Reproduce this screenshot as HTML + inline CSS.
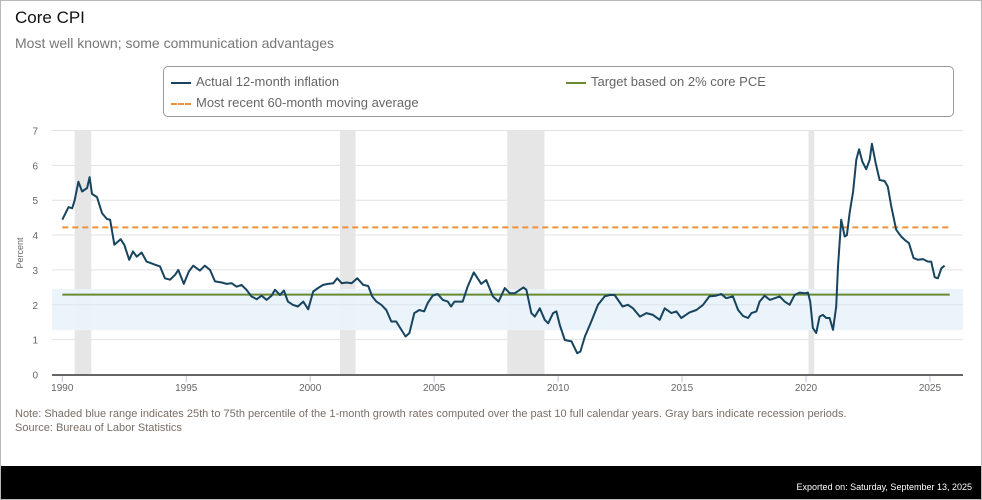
<!DOCTYPE html>
<html><head><meta charset="utf-8"><style>
body{margin:0;width:982px;height:500px;overflow:hidden;background:#fff;font-family:"Liberation Sans",sans-serif;}
#frame{position:absolute;left:0;top:0;width:980px;height:498px;border:1px solid #b8b8b8;}
.t{position:absolute;white-space:nowrap;}
</style></head><body>
<div id="frame"></div>
<div class="t" style="left:15px;top:8px;font-size:17px;color:#111;">Core CPI</div>
<div class="t" style="left:15px;top:35px;font-size:14px;color:#777;">Most well known; some communication advantages</div>
<div style="position:absolute;left:163px;top:66px;width:791px;height:51px;border:1px solid #999;border-radius:5px;box-sizing:border-box;"></div>
<div class="t" style="left:171px;top:74px;font-size:13px;color:#666;"><span style="display:inline-block;width:20px;height:2px;background:#17445f;vertical-align:middle;margin-right:5px;"></span>Actual 12-month inflation</div>
<div class="t" style="left:566px;top:74px;font-size:13px;color:#666;"><span style="display:inline-block;width:20px;height:2px;background:#6a8a32;vertical-align:middle;margin-right:5px;"></span>Target based on 2% core PCE</div>
<div class="t" style="left:171px;top:95px;font-size:13px;color:#666;"><span style="display:inline-block;width:20px;height:0;border-top:2px dashed #f0913a;vertical-align:middle;margin-right:5px;"></span>Most recent 60-month moving average</div>
<svg id="chart" width="982" height="500" style="position:absolute;left:0;top:0;"></svg>
<div class="t" style="left:15px;top:408px;font-size:11px;color:#7a6e66;">Note: Shaded blue range indicates 25th to 75th percentile of the 1-month growth rates computed over the past 10 full calendar years. Gray bars indicate recession periods.</div>
<div class="t" style="left:15px;top:422px;font-size:11px;color:#7a6e66;">Source: Bureau of Labor Statistics</div>
<div style="position:absolute;left:1px;top:466px;width:980px;height:33px;background:#000;"></div>
<div class="t" style="right:10px;top:482px;font-size:9px;color:#fff;">Exported on: Saturday, September 13, 2025</div>
<script>
const dates=[1990.0,1990.25,1990.4,1990.5,1990.65,1990.8,1991.0,1991.1,1991.2,1991.4,1991.6,1991.8,1991.93,1992.1,1992.35,1992.5,1992.7,1992.85,1993.0,1993.2,1993.4,1993.74,1993.94,1994.14,1994.35,1994.55,1994.68,1994.9,1995.1,1995.28,1995.55,1995.75,1995.96,1996.16,1996.43,1996.63,1996.83,1997.03,1997.23,1997.43,1997.63,1997.84,1998.04,1998.24,1998.44,1998.58,1998.78,1998.94,1999.1,1999.3,1999.5,1999.72,1999.92,2000.12,2000.32,2000.52,2000.73,2000.93,2001.09,2001.27,2001.47,2001.67,2001.9,2002.14,2002.34,2002.5,2002.67,2002.87,2003.07,2003.27,2003.47,2003.68,2003.85,2004.0,2004.2,2004.4,2004.6,2004.74,2004.94,2005.14,2005.35,2005.55,2005.68,2005.82,2006.15,2006.35,2006.6,2006.9,2007.1,2007.37,2007.6,2007.85,2008.05,2008.25,2008.6,2008.72,2008.92,2009.06,2009.26,2009.46,2009.6,2009.8,2009.93,2010.07,2010.27,2010.54,2010.77,2010.9,2011.08,2011.34,2011.61,2011.88,2012.08,2012.28,2012.6,2012.82,2013.02,2013.3,2013.56,2013.83,2014.1,2014.3,2014.57,2014.77,2014.97,2015.3,2015.58,2015.85,2016.1,2016.37,2016.58,2016.78,2017.05,2017.26,2017.46,2017.66,2017.8,2018.0,2018.13,2018.33,2018.54,2018.74,2018.94,2019.14,2019.34,2019.54,2019.74,2019.95,2020.08,2020.17,2020.28,2020.41,2020.55,2020.68,2020.82,2020.95,2021.09,2021.22,2021.29,2021.42,2021.56,2021.65,2021.76,2021.9,2022.03,2022.14,2022.27,2022.43,2022.57,2022.66,2022.81,2022.97,2023.17,2023.3,2023.44,2023.64,2023.84,2023.98,2024.15,2024.34,2024.52,2024.72,2024.92,2025.05,2025.19,2025.32,2025.46,2025.59];
const values=[4.44,4.8,4.77,5.0,5.53,5.25,5.35,5.66,5.18,5.09,4.63,4.46,4.44,3.72,3.88,3.72,3.29,3.53,3.38,3.5,3.24,3.15,3.1,2.76,2.72,2.86,3.0,2.6,2.95,3.12,2.98,3.12,3.0,2.67,2.64,2.6,2.62,2.52,2.57,2.43,2.24,2.16,2.26,2.14,2.26,2.43,2.28,2.41,2.09,2.0,1.95,2.09,1.87,2.38,2.48,2.57,2.6,2.62,2.76,2.62,2.64,2.62,2.76,2.57,2.54,2.24,2.09,2.0,1.85,1.52,1.52,1.28,1.09,1.19,1.76,1.85,1.81,2.05,2.26,2.31,2.14,2.09,1.95,2.09,2.09,2.52,2.93,2.6,2.71,2.24,2.09,2.48,2.33,2.33,2.5,2.43,1.76,1.66,1.9,1.57,1.47,1.76,1.81,1.42,0.99,0.95,0.61,0.66,1.09,1.52,2.0,2.24,2.28,2.28,1.95,2.0,1.9,1.66,1.76,1.71,1.57,1.9,1.76,1.81,1.62,1.78,1.85,2.0,2.24,2.26,2.31,2.19,2.24,1.85,1.68,1.62,1.76,1.81,2.09,2.26,2.14,2.19,2.24,2.09,2.0,2.28,2.35,2.33,2.35,2.09,1.33,1.19,1.66,1.71,1.62,1.62,1.28,1.95,3.1,4.44,3.96,4.0,4.63,5.25,6.16,6.46,6.11,5.89,6.16,6.62,6.06,5.58,5.55,5.39,4.82,4.15,3.96,3.86,3.77,3.34,3.29,3.31,3.24,3.24,2.79,2.76,3.05,3.12];
const recessionStarts=[1990.5,2001.2,2007.95,2020.1];
const recessionEnds=[1991.17,2001.83,2009.45,2020.33];
const yTicks=[0,1,2,3,4,5,6,7];
const xTicks=[1990,1995,2000,2005,2010,2015,2020,2025];
const bandRange=[1.27,2.45];
const targetValue=[2.29];
const movingAvgValue=[4.22];
const refLineSpan=[1990,2025.8];

const svg=document.getElementById('chart');
const NS='http://www.w3.org/2000/svg';
const X=y=>62.3+(y-1990)*24.79;
const Y=v=>374.5-v*34.86;
const L=52,R=963;
function mk(tag,attrs,parent){const e=document.createElementNS(NS,tag);for(const k in attrs)e.setAttribute(k,attrs[k]);(parent||svg).appendChild(e);return e;}

yTicks.forEach(t=>{
  if(t>0){const g=mk('line',{x1:L,x2:R,y1:Y(t),y2:Y(t),stroke:'#e2e2e2','stroke-width':1});
  
  }
  const tx=mk('text',{x:38,y:Y(t)+4,'font-size':10,fill:'#666','text-anchor':'end','font-family':'Liberation Sans, sans-serif'});
  tx.textContent=t;
  
  
});
recessionStarts.forEach((s,i)=>{
  const r=mk('rect',{x:X(s),y:Y(7),width:X(recessionEnds[i])-X(s),height:Y(0)-Y(7),fill:'#e6e6e6'});
  
  
});
const band=mk('rect',{x:L,y:Y(bandRange[1]),width:R-L,height:Y(bandRange[0])-Y(bandRange[1]),fill:'#eaf3fb','fill-opacity':0.95});


const g2=mk('line',{x1:L,x2:R,y1:Y(2),y2:Y(2),stroke:'#dde4ea','stroke-width':1});


const ma=mk('line',{x1:X(refLineSpan[0]),x2:X(refLineSpan[1]),y1:Y(movingAvgValue[0]),y2:Y(movingAvgValue[0]),stroke:'#f0913a','stroke-width':2,'stroke-dasharray':'6,4'});


const tg=mk('line',{x1:X(refLineSpan[0]),x2:X(refLineSpan[1]),y1:Y(targetValue[0]),y2:Y(targetValue[0]),stroke:'#6a8a32','stroke-width':2});


const d=dates.map((t,i)=>(i?'L':'M')+X(t).toFixed(1)+','+Y(values[i]).toFixed(1)).join(' ');
const ln=mk('path',{d:d,fill:'none',stroke:'#17445f','stroke-width':2,'stroke-linejoin':'round'});


const ax=mk('line',{x1:L,x2:R,y1:375,y2:375,stroke:'#666','stroke-width':2});


xTicks.forEach(t=>{
  const tk=mk('line',{x1:X(t),x2:X(t),y1:376,y2:382,stroke:'#b8c8e0','stroke-width':1});
  
  
  const tx=mk('text',{x:X(t),y:391,'font-size':10,fill:'#666','text-anchor':'middle','font-family':'Liberation Sans, sans-serif'});
  tx.textContent=t;
  
  
});
const yl=mk('text',{x:0,y:0,'font-size':9,fill:'#666','text-anchor':'middle',transform:'translate(23,253) rotate(-90)','font-family':'Liberation Sans, sans-serif'});
yl.textContent='Percent';


</script>
</body></html>
